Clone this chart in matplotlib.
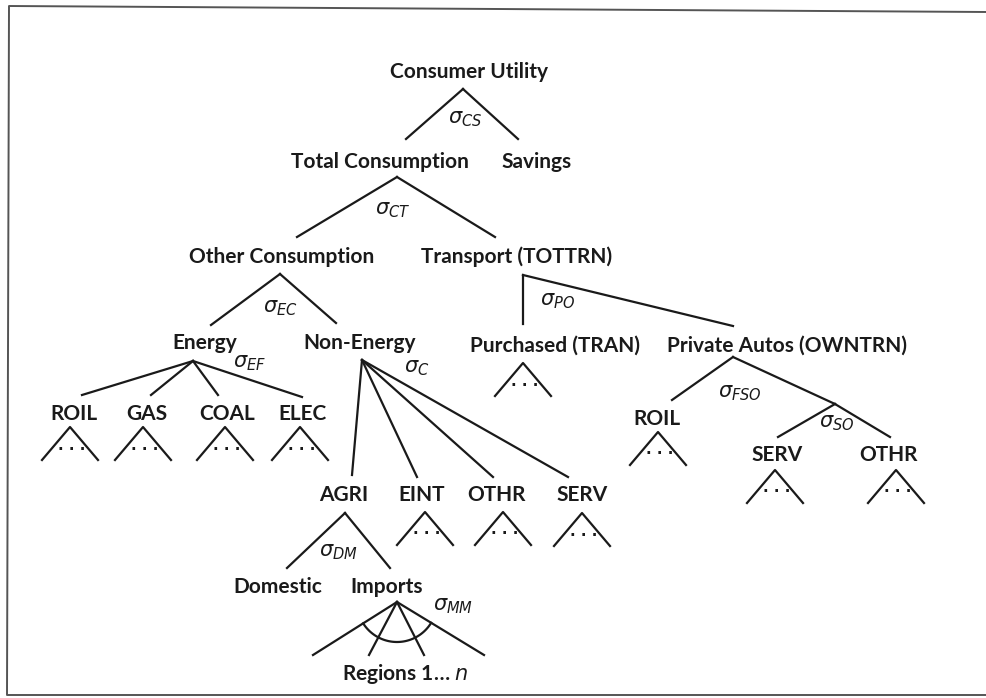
import numpy as np
import matplotlib.pyplot as plt

plt.rcParams['font.family'] = ['Lato', 'DejaVu Sans']
plt.rcParams['mathtext.fontset'] = 'custom'
plt.rcParams['mathtext.rm'] = 'DejaVu Sans'
plt.rcParams['mathtext.it'] = 'DejaVu Sans:italic'
plt.rcParams['mathtext.bf'] = 'DejaVu Sans:bold'

ink = '#1a1a1a'

# node labels
labels = {
    'cu': 'Consumer Utility', 'tc': 'Total Consumption', 'sav': 'Savings',
    'oc': 'Other Consumption', 'tr': 'Transport (TOTTRN)',
    'en': 'Energy', 'ne': 'Non-Energy',
    'pu': 'Purchased (TRAN)', 'pa': 'Private Autos (OWNTRN)',
    'roil': 'ROIL', 'gas': 'GAS', 'coal': 'COAL', 'elec': 'ELEC',
    'agri': 'AGRI', 'eint': 'EINT', 'othr': 'OTHR', 'serv': 'SERV',
    'roil2': 'ROIL', 'serv2': 'SERV', 'othr2': 'OTHR',
    'dom': 'Domestic', 'imp': 'Imports', 'reg': 'Regions 1\u2026 $n$',
}

# nesting structure (parent, child)
edges = [('cu', 'tc'), ('cu', 'sav'), ('tc', 'oc'), ('tc', 'tr'),
         ('oc', 'en'), ('oc', 'ne'), ('tr', 'pu'), ('tr', 'pa'),
         ('en', 'roil'), ('en', 'gas'), ('en', 'coal'), ('en', 'elec'),
         ('ne', 'agri'), ('ne', 'eint'), ('ne', 'othr'), ('ne', 'serv'),
         ('pa', 'roil2'), ('pa', 'so'), ('so', 'serv2'), ('so', 'othr2'),
         ('agri', 'dom'), ('agri', 'imp')]

# nodes whose inputs are collapsed into "..."
collapsed = ['roil', 'gas', 'coal', 'elec', 'pu', 'roil2', 'serv2', 'othr2',
             'eint', 'othr', 'serv']

# substitution elasticities
sigmas = ['CS', 'CT', 'EC', 'PO', 'EF', 'C', 'FSO', 'SO', 'DM', 'MM']

# ---- layout (pixel space) ----
text_xy = {
    'cu': (469, 78), 'tc': (380, 168), 'sav': (537, 168),
    'oc': (282, 263), 'tr': (517, 263),
    'en': (205, 349), 'ne': (360, 349),
    'pu': (555, 352), 'pa': (787, 352),
    'roil': (74, 420), 'gas': (147, 420), 'coal': (227, 420), 'elec': (303, 420),
    'agri': (344, 501), 'eint': (422, 501), 'othr': (497, 501), 'serv': (582, 501),
    'roil2': (657, 425), 'serv2': (777, 461), 'othr2': (888, 461),
    'dom': (278, 593), 'imp': (387, 593), 'reg': (405, 680),
}
top = {
    'tc': (406, 139), 'sav': (518, 139), 'oc': (297, 237), 'tr': (495, 237),
    'en': (211, 325), 'ne': (336, 323), 'pu': (523, 324), 'pa': (733, 326),
    'roil': (82, 395), 'gas': (151, 395), 'coal': (218, 395), 'elec': (302, 397),
    'agri': (352, 475), 'eint': (417, 477), 'othr': (493, 477), 'serv': (568, 477),
    'roil2': (672, 400), 'so': (835, 404), 'serv2': (778, 437), 'othr2': (890, 437),
    'dom': (287, 568), 'imp': (390, 568),
}
bottom = {
    'cu': (463, 89), 'tc': (397, 177), 'oc': (280, 274), 'tr': (523, 275),
    'en': (193, 361), 'ne': (362, 360), 'pa': (733, 357), 'so': (835, 404),
    'agri': (345, 513), 'imp': (397, 602),
    'roil': (70, 427), 'gas': (143, 427), 'coal': (225, 427), 'elec': (300, 427),
    'pu': (523, 363), 'roil2': (658, 432), 'serv2': (775, 470), 'othr2': (896, 470),
    'eint': (425, 512), 'othr': (503, 512), 'serv': (582, 513),
}
region_ends = [(313, 655), (369, 655), (424, 655), (484, 655)]
sigma_xy = [(465, 119), (393, 210), (280, 308), (557, 301), (250, 363),
            (417, 368), (740, 393), (837, 423), (338, 552), (453, 606)]

fig = plt.figure(figsize=(9.87, 6.98), dpi=100)
ax = fig.add_axes([0, 0, 1, 1])
ax.set_xlim(0, 987)
ax.set_ylim(698, 0)
ax.axis('off')

# scanned page frame
ax.plot([987, 9, 7, 987], [12, 6, 695, 695], color='#555555', lw=1.4)

lw = 1.6
for p, c in edges:
    x0, y0 = bottom[p]
    x1, y1 = top[c]
    ax.plot([x0, x1], [y0, y1], color=ink, lw=lw)

# collapsed sub-nests
for n in collapsed:
    px, py = bottom[n]
    ax.plot([px - 28, px, px + 28], [py + 33, py, py + 33], color=ink, lw=lw)
    ax.text(px + 2, py + 22, '\u00b7 \u00b7 \u00b7', ha='center',
            va='center', fontsize=11, fontweight='bold', color=ink,
            family=['DejaVu Sans'])

# regions of imports with the arc
cx, cy = bottom['imp']
for ex, ey in region_ends:
    ax.plot([cx, ex], [cy, ey], color=ink, lw=lw)
a0 = np.arctan2(region_ends[-1][1] - cy, region_ends[-1][0] - cx)
a1 = np.arctan2(region_ends[0][1] - cy, region_ends[0][0] - cx)
t = np.linspace(a0, a1, 60)
ax.plot(cx + 40 * np.cos(t), cy + 40 * np.sin(t), color=ink, lw=lw)

for k, s in labels.items():
    x, y = text_xy[k]
    ax.text(x, y, s, ha='center', va='baseline', fontsize=15,
            fontweight='bold', color=ink)

for s, (x, y) in zip(sigmas, sigma_xy):
    ax.text(x, y, r'$\sigma_{%s}$' % s, ha='center', va='center',
            fontsize=15, color=ink)

fig.savefig('out.png', dpi=100, facecolor='white')
